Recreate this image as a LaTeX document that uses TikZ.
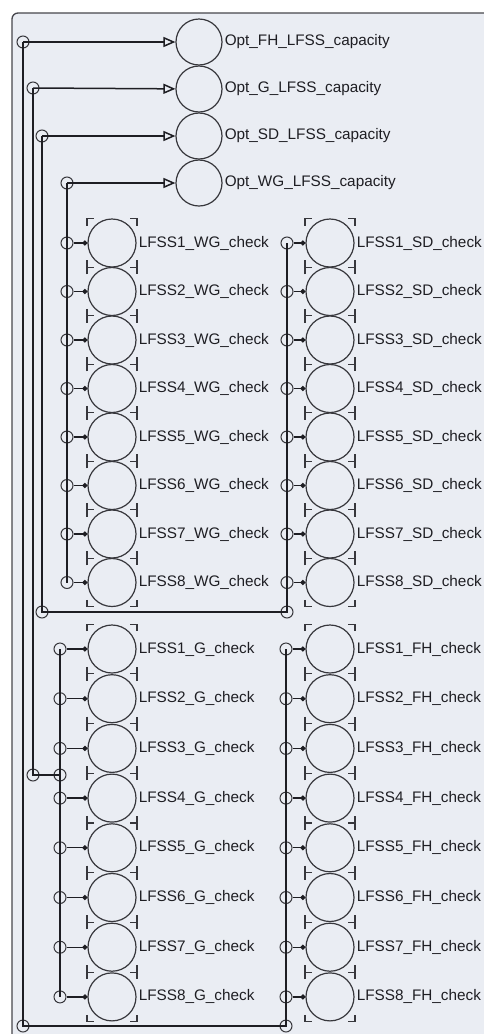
\documentclass[tikz,border=0pt]{standalone}
\usepackage{fontspec}
\setmainfont{Liberation Sans}
\usepackage{tikz}
\usetikzlibrary{arrows.meta, positioning}
\definecolor{mydark}{RGB}{30,30,35}
\definecolor{myline}{RGB}{55,55,60}
\definecolor{mypanel}{RGB}{234,237,243}
\definecolor{myframe}{RGB}{70,70,76}
\tikzset{
  optvar/.style={circle, draw=myline, minimum size=46pt, inner sep=0pt, line width=1.2pt},
  checkvar/.style={circle, draw=myline, minimum size=48pt, inner sep=0pt, line width=1.2pt},
  port/.style={circle, draw=myline, minimum size=12pt, inner sep=0pt, line width=1pt},
  varlabel/.style={inner sep=0pt, text=mydark, font=\fontsize{15.3}{18}\selectfont},
  bus/.style={line width=1.5pt, color=mydark},
  busarrow/.style={line width=1.5pt, color=mydark, -{Triangle[open, length=12pt, width=10pt]}},
  link/.style={line width=1.3pt, color=mydark, -{Circle[length=5pt]}},
  brk/.style={line width=1.1pt, color=myline}
}
\begin{document}
\begin{tikzpicture}[x=1pt, y=-1pt]
  \useasboundingbox (0,0) rectangle (484,1034);
  % Panel
  \draw[rounded corners=6pt, fill=mypanel, draw=myframe, line width=1.3pt] (12,13) rectangle (520,1060);

  % Optimal capacity variables
  \node[optvar] (optFH) at (199,42) {};
  \node[optvar] (optG) at (199,89) {};
  \node[optvar] (optSD) at (199,136) {};
  \node[optvar] (optWG) at (199,183) {};
  \node[varlabel, right=2pt of optFH] (optFH-l) {Opt\_FH\_LFSS\_capacity};
  \node[varlabel, right=2pt of optG] (optG-l) {Opt\_G\_LFSS\_capacity};
  \node[varlabel, right=2pt of optSD] (optSD-l) {Opt\_SD\_LFSS\_capacity};
  \node[varlabel, right=2pt of optWG] (optWG-l) {Opt\_WG\_LFSS\_capacity};

  % Check variables
  \foreach \i in {1,...,8} {
    \pgfmathsetmacro{\ya}{243+48.5*(\i-1)}
    \pgfmathsetmacro{\yb}{649+49.7*(\i-1)}
    \node[checkvar] (wg\i) at (112,\ya) {};
    \node[checkvar] (sd\i) at (330,\ya) {};
    \node[checkvar] (g\i) at (112,\yb) {};
    \node[checkvar] (fh\i) at (330,\yb) {};
    \node[varlabel, right=2pt of wg\i] (wg\i-l) {LFSS\i\_WG\_check};
    \node[varlabel, right=2pt of sd\i] (sd\i-l) {LFSS\i\_SD\_check};
    \node[varlabel, right=2pt of g\i] (g\i-l) {LFSS\i\_G\_check};
    \node[varlabel, right=2pt of fh\i] (fh\i-l) {LFSS\i\_FH\_check};
    % ports
    \node[port] (wg\i-p) at (67,\ya) {};
    \node[port] (sd\i-p) at (287,\ya) {};
    \node[port] (g\i-p) at (60,\yb) {};
    \node[port] (fh\i-p) at (286,\yb) {};
    \draw[link] (wg\i-p) -- (wg\i);
    \draw[link] (sd\i-p) -- (sd\i);
    \draw[link] (g\i-p) -- (g\i);
    \draw[link] (fh\i-p) -- (fh\i);
  }

  % Corner brackets
  \foreach \n/\h in {wg/24.25, sd/24.25, g/24.85, fh/24.85} {
    \foreach \i in {1,...,8} {
      \draw[brk] (\n\i) +(-25,-\h+7) -- +(-25,-\h) -- +(-18,-\h)
                        +(18,-\h) -- +(25,-\h) -- +(25,-\h+7)
                        +(-25,\h-7) -- +(-25,\h) -- +(-18,\h)
                        +(18,\h) -- +(25,\h) -- +(25,\h-7);
    }
  }

  % Sources
  \node[port] (fhSrc) at (23,42) {};
  \node[port] (gSrc) at (33,88) {};
  \node[port] (sdSrc) at (42,136) {};
  \node[port] (wgSrc) at (67,183) {};
  \draw[busarrow] (fhSrc.center) -- (optFH);
  \draw[busarrow] (gSrc.center) -- (optG);
  \draw[busarrow] (sdSrc.center) -- (optSD);
  \draw[busarrow] (wgSrc.center) -- (optWG);

  % FH bus
  \node[port] (fhC1) at (23,1026) {};
  \node[port] (fhC2) at (286,1026) {};
  \draw[bus] (fhSrc.center) -- (fhC1.center) -- (fhC2.center) -- (fh1-p.center);

  % G bus
  \node[port] (gC1) at (33,775) {};
  \node[port] (gJoin) at (60,775) {};
  \draw[bus] (gSrc.center) -- (gC1.center) -- (gJoin.center);
  \draw[bus] (g1-p.center) -- (g8-p.center);

  % SD bus
  \node[port] (sdC1) at (42,612) {};
  \node[port] (sdC2) at (287,612) {};
  \draw[bus] (sdSrc.center) -- (sdC1.center) -- (sdC2.center) -- (sd1-p.center);

  % WG bus
  \draw[bus] (wgSrc.center) -- (wg8-p.center);
\end{tikzpicture}
\end{document}
